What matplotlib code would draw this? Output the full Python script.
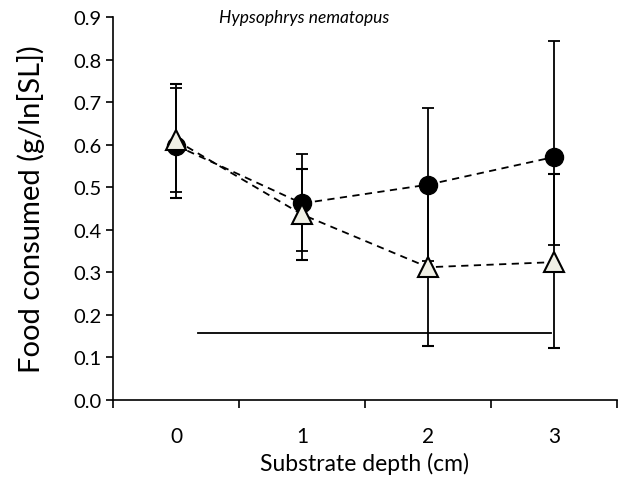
import matplotlib.pyplot as plt
import numpy as np

plt.rcParams['font.family'] = ['Lato', 'DejaVu Sans']

# substrate depth categories (cm)
depth = np.array([0, 1, 2, 3])
depth_labels = ['0', '1', '2', '3']

# filled circles
circ_mean = np.array([0.598, 0.462, 0.506, 0.571])
circ_low = np.array([0.489, 0.351, 0.326, 0.365])
circ_high = np.array([0.732, 0.578, 0.686, 0.843])

# open triangles
tri_mean = np.array([0.610, 0.436, 0.312, 0.324])
tri_low = np.array([0.475, 0.329, 0.128, 0.122])
tri_high = np.array([0.742, 0.543, 0.496, 0.531])

# horizontal line (significance bar)
bar_x = [0.175, 2.98]
bar_y = [0.157, 0.157]

fig = plt.figure(figsize=(6.26, 4.81), dpi=100)
ax = fig.add_axes([0.1805, 0.1663, 0.8051, 0.7963])

ax.plot(bar_x, bar_y, color='black', lw=1.3, zorder=1)

ax.errorbar(depth, circ_mean, yerr=[circ_mean - circ_low, circ_high - circ_mean],
            fmt='o', color='black', ms=13, mfc='black', mec='black',
            ecolor='black', elinewidth=1.3, capsize=4, capthick=1.3, zorder=2)
ax.plot(depth, circ_mean, ls=(0, (4, 3)), color='black', lw=1.3, zorder=2)

ax.errorbar(depth, tri_mean, yerr=[tri_mean - tri_low, tri_high - tri_mean],
            fmt='^', color='black', ms=14, mfc='#f0f0e6', mec='black', mew=1.5,
            ecolor='black', elinewidth=1.3, capsize=4, capthick=1.3, zorder=3)
ax.plot(depth, tri_mean, ls=(0, (4, 3)), color='black', lw=1.3, zorder=2.5)

ax.set_xlim(-0.5, 3.5)
ax.set_ylim(0, 0.9)
ax.set_yticks(np.arange(0, 0.91, 0.1))
ax.set_yticklabels([f'{v:.1f}' for v in np.arange(0, 0.91, 0.1)])
ax.set_xticks([-0.5, 0.5, 1.5, 2.5, 3.5])
ax.set_xticklabels([])
ax.set_xticks(depth, minor=True)
ax.set_xticklabels(depth_labels, minor=True)
ax.tick_params(axis='x', which='minor', length=0, labelsize=15, pad=19)
ax.tick_params(axis='x', which='major', length=6, width=1.2, direction='out')
ax.tick_params(axis='y', length=5, width=1.2, direction='out', labelsize=14.5)

for s in ['top', 'right']:
    ax.spines[s].set_visible(False)
for s in ['left', 'bottom']:
    ax.spines[s].set_linewidth(1.2)

ax.set_xlabel('Substrate depth (cm)', fontsize=16.5, labelpad=4)
ax.set_ylabel('Food consumed (g/ln[SL])', fontsize=21, labelpad=20)
ax.text(1.02, 0.9, 'Hypsophrys nematopus', style='italic', fontsize=12.5,
        ha='center', va='center')

fig.savefig('out.png', dpi=100)
